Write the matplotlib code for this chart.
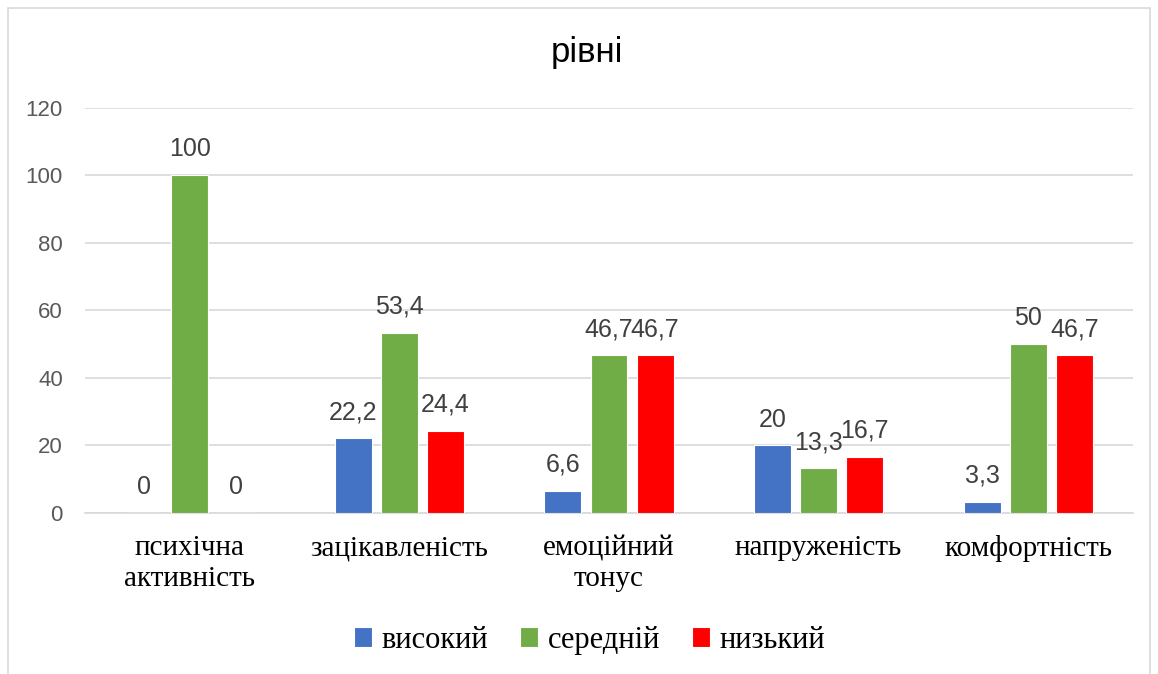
import matplotlib.pyplot as plt
import numpy as np
from matplotlib.patches import Rectangle

categories = ["психічна\nактивність", "зацікавленість", "емоційний\nтонус",
              "напруженість", "комфортність"]
high = [0, 22.2, 6.6, 20, 3.3]
medium = [100, 53.4, 46.7, 13.3, 50]
low = [0, 24.4, 46.7, 16.7, 46.7]
high_labels = ["0", "22,2", "6,6", "20", "3,3"]
medium_labels = ["100", "53,4", "46,7", "13,3", "50"]
low_labels = ["0", "24,4", "46,7", "16,7", "46,7"]
series_names = ["високий", "середній", "низький"]
colors = ["#4472C4", "#70AD47", "#FF0000"]

sans = "Liberation Sans"
serif = "Liberation Serif"

fig = plt.figure(figsize=(11.58, 6.74), dpi=100)
ax = fig.add_axes([0.0734, 0.239, 0.905, 0.601])

# outer chart border
fig.patches.append(Rectangle((0.007, -0.01), 0.986, 0.998, transform=fig.transFigure,
                             fill=False, edgecolor="#D9D9D9", linewidth=1.2))

x = np.arange(len(categories))
barWidth = 0.176
step = 0.22
for i, (vals, labs) in enumerate(zip([high, medium, low],
                                     [high_labels, medium_labels, low_labels])):
    bars = ax.bar(x + (i - 1) * step, vals, width=barWidth, color=colors[i],
                  edgecolor="white", linewidth=0.8, label=series_names[i], zorder=3)
    ax.bar_label(bars, labels=labs, padding=10, fontsize=18, color="#404040",
                 family=sans)

ax.set_xlim(-0.5, 4.5)
ax.set_ylim(0, 120)
ax.set_yticks(range(0, 121, 20))
ax.yaxis.grid(True, color="#D9D9D9", linewidth=1.2, zorder=0)
ax.tick_params(axis="y", length=0, pad=16, labelsize=16, labelcolor="#595959")
for t in ax.get_yticklabels():
    t.set_family(sans)
ax.set_xticks(x)
ax.set_xticklabels(categories, family=serif, fontsize=21, color="black",
                   linespacing=1.25)
ax.tick_params(axis="x", length=0, pad=16)
for s in ["top", "right", "left"]:
    ax.spines[s].set_visible(False)
ax.spines["bottom"].set_color("#D9D9D9")
ax.spines["bottom"].set_linewidth(1.2)

fig.text(0.507, 0.922, "рівні", ha="center", va="center", fontsize=25,
         family=sans, color="black")

leg = fig.legend(loc="center", bbox_to_anchor=(0.509, 0.05), ncol=3, frameon=False,
                 prop={"family": serif, "size": 22}, handlelength=0.6,
                 handleheight=0.6, handletextpad=0.3, columnspacing=1.05)

fig.savefig("out.png", dpi=100)
